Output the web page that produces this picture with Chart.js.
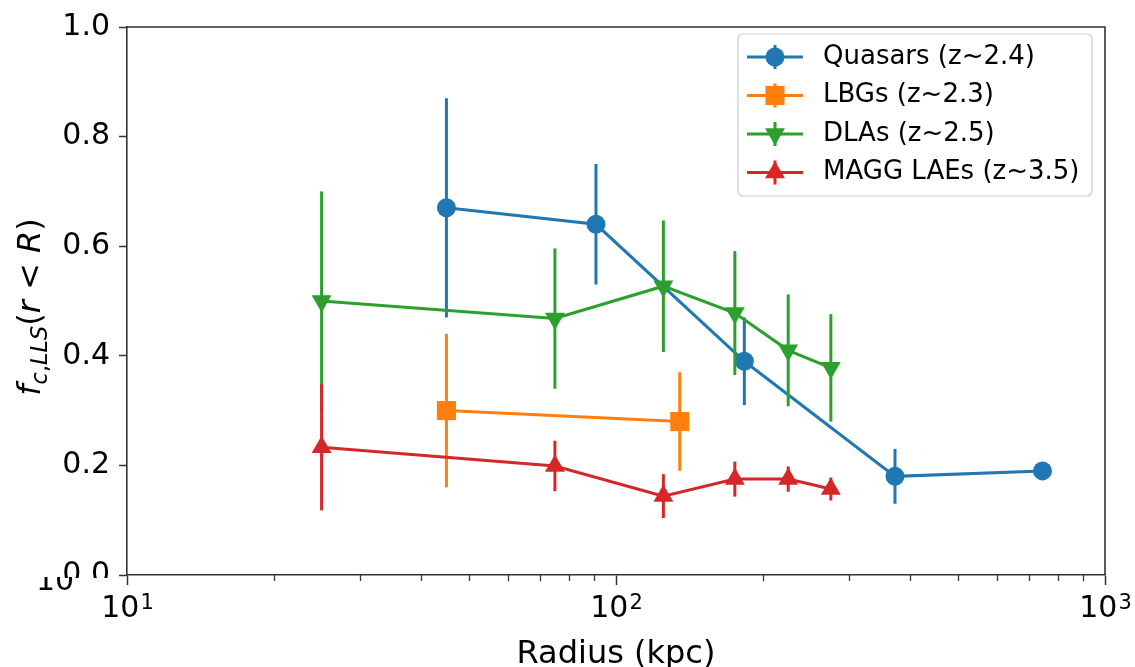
<!DOCTYPE html>
<html>
<head>
<meta charset="utf-8">
<script src="https://cdn.jsdelivr.net/npm/chart.js@4.4.1/dist/chart.umd.min.js"></script>
<style>
  html, body { margin: 0; padding: 0; background: #fff; }
</style>
</head>
<body>
<canvas id="fcChart" width="1135" height="667"></canvas>
<script>
/******************************************************
 * DATA
 ******************************************************/
const qsoRadius = [45, 91, 183, 372, 745];
const qsoFrac   = [0.67, 0.64, 0.39, 0.18, 0.19];
const qsoErr    = [0.20, 0.11, 0.08, 0.05, 0.01];

const lbgRadius = [45, 135];
const lbgFrac   = [0.30, 0.28];
const lbgErr    = [0.14, 0.09];

const dlaRadius = [25, 75, 125, 175, 225, 275];
const dlaFrac   = [0.50, 0.468, 0.527, 0.478, 0.41, 0.378];
const dlaErr    = [0.20, 0.128, 0.12, 0.113, 0.102, 0.098];

const laeRadius = [25, 75, 125, 175, 225, 275];
const laeFrac   = [0.233, 0.199, 0.144, 0.175, 0.175, 0.157];
const laeErr    = [0.115, 0.046, 0.040, 0.032, 0.023, 0.021];

const seriesLabels = ["Quasars (z~2.4)", "LBGs (z~2.3)", "DLAs (z~2.5)", "MAGG LAEs (z~3.5)"];
const xTicks = [10, 100, 1000];
const xMinorTicks = [20, 30, 40, 50, 60, 70, 80, 90, 200, 300, 400, 500, 600, 700, 800, 900];
const yTicks = [0, 0.2, 0.4, 0.6, 0.8, 1.0];

const FONT = "'DejaVu Sans', sans-serif";
const AXIS = "#333";
const LW = 3;


/******************************************************
 * DATASETS
 ******************************************************/
function makeSet(label, xs, ys, errs, color, style, rot, radius, order) {
  return {
    label: label,
    data: xs.map((x, i) => ({ x: x, y: ys[i] })),
    errors: errs,
    borderColor: color,
    backgroundColor: color,
    borderWidth: LW,
    pointStyle: style,
    pointRotation: rot,
    pointRadius: radius,
    pointHoverRadius: radius,
    pointBackgroundColor: color,
    pointBorderColor: color,
    pointBorderWidth: 0,
    tension: 0,
    fill: false,
    order: order
  };
}

const datasets = [
  makeSet(seriesLabels[0], qsoRadius, qsoFrac, qsoErr, "#1f77b4", "circle", 0, 9.5, 3),
  makeSet(seriesLabels[1], lbgRadius, lbgFrac, lbgErr, "#ff7f0e", "rect", 0, 13.5, 2),
  makeSet(seriesLabels[2], dlaRadius, dlaFrac, dlaErr, "#2ca02c", "triangle", 180, 11.5, 1),
  makeSet(seriesLabels[3], laeRadius, laeFrac, laeErr, "#d62728", "triangle", 0, 11.5, 0)
];


/******************************************************
 * MARKER HELPER (legend)
 ******************************************************/
function drawMarker(ctx, ds, x, y) {
  ctx.fillStyle = ds.backgroundColor;
  ctx.strokeStyle = ds.borderColor;
  if (Chart.helpers && Chart.helpers.drawPoint) {
    Chart.helpers.drawPoint(ctx, {
      pointStyle: ds.pointStyle, rotation: ds.pointRotation,
      radius: ds.pointRadius, borderWidth: 0
    }, x, y);
    return;
  }
  const r = ds.pointRadius;
  ctx.beginPath();
  if (ds.pointStyle === "circle") {
    ctx.arc(x, y, r, 0, Math.PI * 2);
  } else if (ds.pointStyle === "rect") {
    const s = r * Math.SQRT1_2;
    ctx.rect(x - s, y - s, 2 * s, 2 * s);
  } else {
    let a = (ds.pointRotation - 90) * Math.PI / 180;
    for (let k = 0; k < 3; k++) {
      const px = x + r * Math.cos(a), py = y + r * Math.sin(a);
      k === 0 ? ctx.moveTo(px, py) : ctx.lineTo(px, py);
      a += Math.PI * 2 / 3;
    }
    ctx.closePath();
  }
  ctx.fill();
}


/******************************************************
 * PLUGINS
 ******************************************************/
const errorBars = {
  id: "errorBars",
  beforeDatasetDraw(chart, args) {
    const ds = chart.data.datasets[args.index];
    const xs = chart.scales.x, ys = chart.scales.y;
    const ctx = chart.ctx;
    ctx.save();
    ctx.strokeStyle = ds.borderColor;
    ctx.lineWidth = LW;
    ds.data.forEach((p, i) => {
      const e = ds.errors[i];
      const px = xs.getPixelForValue(p.x);
      ctx.beginPath();
      ctx.moveTo(px, ys.getPixelForValue(p.y - e));
      ctx.lineTo(px, ys.getPixelForValue(p.y + e));
      ctx.stroke();
    });
    ctx.restore();
  }
};

function drawYTitle(ctx, baseX, centerY) {
  const big = 32, small = 22.4, sub = 7;
  const parts = [
    { t: "f", s: big, it: true, dy: 0 },
    { t: "c", s: small, it: true, dy: sub },
    { t: ",", s: small, it: false, dy: sub },
    { t: "LLS", s: small, it: true, dy: sub },
    { t: "(", s: big, it: false, dy: 0 },
    { t: "r", s: big, it: true, dy: 0 },
    { t: " < ", s: big, it: false, dy: 0 },
    { t: "R", s: big, it: true, dy: 0 },
    { t: ")", s: big, it: false, dy: 0 }
  ];
  const fontOf = p => (p.it ? "italic " : "") + p.s + "px " + FONT;
  let total = 0;
  parts.forEach(p => { ctx.font = fontOf(p); p.w = ctx.measureText(p.t).width; total += p.w; });
  ctx.save();
  ctx.translate(baseX, centerY);
  ctx.rotate(-Math.PI / 2);
  ctx.fillStyle = "#000";
  ctx.textBaseline = "alphabetic";
  ctx.textAlign = "left";
  let x = -total / 2;
  parts.forEach(p => {
    ctx.font = fontOf(p);
    ctx.fillText(p.t, x, p.dy);
    x += p.w;
  });
  ctx.restore();
}

// "10" with a raised exponent, centred on the tick like matplotlib does
function drawPowerLabel(ctx, cx, baseline, exp) {
  ctx.font = "30px " + FONT;
  const wMain = ctx.measureText("10").width;
  ctx.font = "21px " + FONT;
  const wExp = ctx.measureText(String(exp)).width;
  const x0 = cx - (wMain + wExp) / 2;
  ctx.textAlign = "left";
  ctx.textBaseline = "alphabetic";
  ctx.font = "30px " + FONT;
  ctx.fillText("10", x0, baseline);
  ctx.font = "21px " + FONT;
  ctx.fillText(String(exp), x0 + wMain + 1, baseline - 8);
}

const decorations = {
  id: "decorations",
  afterDraw(chart) {
    const ctx = chart.ctx;
    const a = chart.chartArea;
    const xs = chart.scales.x;

    // top and right spines
    ctx.save();
    ctx.strokeStyle = AXIS;
    ctx.lineWidth = 1.6;
    ctx.beginPath();
    ctx.moveTo(a.left, a.top);
    ctx.lineTo(a.right, a.top);
    ctx.lineTo(a.right, a.bottom);
    ctx.stroke();

    // minor ticks on the log axis
    ctx.lineWidth = 1.3;
    xMinorTicks.forEach(v => {
      const px = Math.round(xs.getPixelForValue(v)) + 0.5;
      ctx.beginPath();
      ctx.moveTo(px, a.bottom);
      ctx.lineTo(px, a.bottom + 6);
      ctx.stroke();
    });
    ctx.restore();

    // decade labels
    ctx.save();
    ctx.fillStyle = "#000";
    xs.ticks.forEach(t => {
      drawPowerLabel(ctx, xs.getPixelForValue(t.value), a.bottom + 42, Math.round(Math.log10(t.value)));
    });
    ctx.restore();

    // 0.0 label, cut off at the bottom, with the stray "10" under it
    ctx.save();
    ctx.fillStyle = "#000";
    ctx.font = "30px " + FONT;
    ctx.textAlign = "right";
    ctx.textBaseline = "middle";
    ctx.beginPath();
    ctx.rect(0, a.bottom - 30, a.left - 5, 33);
    ctx.clip();
    ctx.fillText("0.0", a.left - 17, chart.scales.y.getPixelForValue(0));
    ctx.restore();

    ctx.save();
    ctx.fillStyle = "#000";
    ctx.font = "30px " + FONT;
    ctx.textAlign = "left";
    ctx.textBaseline = "alphabetic";
    ctx.beginPath();
    ctx.rect(0, a.bottom + 2, a.left - 10, 30);
    ctx.clip();
    ctx.fillText("10", 36, a.bottom + 15);
    ctx.restore();

    drawYTitle(ctx, 40, (a.top + a.bottom) / 2 + 6);

    // legend
    const box = { x: 738, y: 34, w: 354, h: 162 };
    ctx.save();
    ctx.fillStyle = "rgba(255,255,255,0.8)";
    ctx.strokeStyle = "#cccccc";
    ctx.lineWidth = 1.2;
    ctx.beginPath();
    ctx.roundRect(box.x, box.y, box.w, box.h, 5);
    ctx.fill();
    ctx.stroke();

    const rowY0 = 57, rowStep = 38.5;
    chart.data.datasets.forEach((ds, i) => {
      const y = rowY0 + i * rowStep;
      const hx0 = 747, hx1 = 803, hc = (hx0 + hx1) / 2;
      ctx.strokeStyle = ds.borderColor;
      ctx.lineWidth = LW;
      ctx.beginPath();
      ctx.moveTo(hx0, y);
      ctx.lineTo(hx1, y);
      ctx.moveTo(hc, y - 12);
      ctx.lineTo(hc, y + 12);
      ctx.stroke();
      drawMarker(ctx, ds, hc, y);

      ctx.fillStyle = "#000";
      ctx.font = "26px " + FONT;
      ctx.textAlign = "left";
      ctx.textBaseline = "middle";
      ctx.fillText(ds.label, 823, y);
    });
    ctx.restore();
  }
};


/******************************************************
 * CHART
 ******************************************************/
const ctx = document.getElementById("fcChart").getContext("2d");
new Chart(ctx, {
  type: "line",
  data: { datasets: datasets },
  options: {
    responsive: false,
    animation: false,
    events: [],
    layout: { padding: { top: 21, right: 30, left: 0, bottom: 0 } },
    plugins: {
      legend: { display: false },
      tooltip: { enabled: false }
    },
    scales: {
      x: {
        type: "logarithmic",
        min: 10,
        max: 1000,
        afterBuildTicks: s => { s.ticks = xTicks.map(v => ({ value: v })); },
        afterFit: s => { s.height = 92; },
        ticks: {
          autoSkip: false,
          maxRotation: 0,
          padding: 4,
          color: "#000",
          font: { family: FONT, size: 30 },
          callback: () => ""
        },
        grid: { drawOnChartArea: false, tickLength: 10, tickColor: AXIS, tickWidth: 1.5 },
        border: { color: AXIS, width: 1.6 },
        title: {
          display: true,
          text: "Radius (kpc)",
          color: "#000",
          font: { family: FONT, size: 32, lineHeight: 0.8 },
          padding: 0
        }
      },
      y: {
        min: 0,
        max: 1,
        afterBuildTicks: s => { s.ticks = yTicks.map(v => ({ value: v })); },
        afterFit: s => { s.width = 127; },
        ticks: {
          padding: 9,
          color: "#000",
          font: { family: FONT, size: 30 },
          callback: v => v === 0 ? "" : v.toFixed(1)
        },
        grid: { drawOnChartArea: false, tickLength: 8, tickColor: AXIS, tickWidth: 1.5 },
        border: { color: AXIS, width: 1.6 }
      }
    }
  },
  plugins: [errorBars, decorations]
});
</script>
</body>
</html>
